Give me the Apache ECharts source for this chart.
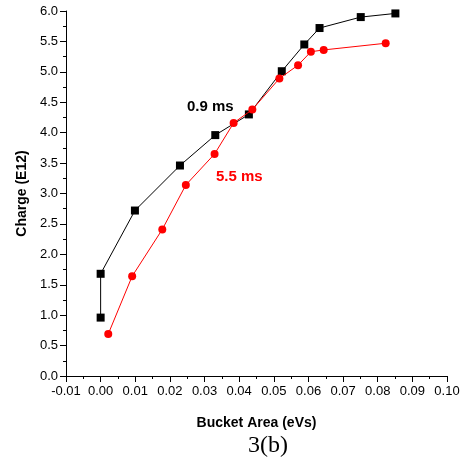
<!DOCTYPE html>
<html><head><meta charset="utf-8">
<script src="https://cdn.jsdelivr.net/npm/echarts@6/dist/echarts.min.js"></script>
<style>html,body{margin:0;padding:0;background:#fff}#c{width:464px;height:465px}</style>
</head><body><div id="c"></div>
<script>
var xTicks = [-0.01,0.00,0.01,0.02,0.03,0.04,0.05,0.06,0.07,0.08,0.09,0.10];
var yTicks = [0.0,0.5,1.0,1.5,2.0,2.5,3.0,3.5,4.0,4.5,5.0,5.5,6.0];
var area09 = [0.0, 0.0, 0.0099, 0.0229, 0.0331, 0.0428, 0.0523, 0.0588, 0.0632, 0.0751, 0.0851];
var charge09 = [0.96, 1.68, 2.72, 3.46, 3.96, 4.30, 5.01, 5.45, 5.72, 5.90, 5.96];
var area55 = [0.0022, 0.0091, 0.0178, 0.0246, 0.0329, 0.0384, 0.0438, 0.0516, 0.0570, 0.0607, 0.0644, 0.0823];
var charge55 = [0.69, 1.64, 2.41, 3.14, 3.65, 4.16, 4.38, 4.89, 5.11, 5.33, 5.36, 5.47];
var seriesNames = ['0.9 ms', '5.5 ms'];
var xTitle = 'Bucket Area (eVs)';
var yTitle = 'Charge (E12)';
var caption = '3(b)';

function pairs(xs, ys){ return xs.map(function(x,i){ return [x, ys[i]]; }); }

var chart = echarts.init(document.getElementById('c'));
var fam = 'Liberation Sans, Arial, sans-serif';
chart.setOption({
  animation: false,
  grid: { left: 66, right: 17, top: 11, bottom: 89 },
  xAxis: {
    type: 'value', min: xTicks[0], max: xTicks[xTicks.length-1], interval: 0.01,
    name: xTitle, nameLocation: 'middle', nameGap: 40,
    nameTextStyle: { fontFamily: fam, fontWeight: 'bold', fontSize: 14, color: '#000' },
    axisLine: { show: true, onZero: false, lineStyle: { color: '#000', width: 1 } },
    axisTick: { show: true, inside: false, length: 6, lineStyle: { color: '#000' } },
    minorTick: { show: true, splitNumber: 2, length: 3, lineStyle: { color: '#000' } },
    splitLine: { show: false },
    axisLabel: { fontFamily: fam, fontSize: 13, color: '#000', margin: 9,
      formatter: function(v){ return v.toFixed(2); } }
  },
  yAxis: {
    type: 'value', min: yTicks[0], max: yTicks[yTicks.length-1], interval: 0.5,
    name: yTitle, nameLocation: 'middle', nameGap: 34, nameRotate: 90,
    nameTextStyle: { fontFamily: fam, fontWeight: 'bold', fontSize: 14, color: '#000' },
    axisLine: { show: true, onZero: false, lineStyle: { color: '#000', width: 1 } },
    axisTick: { show: true, inside: false, length: 6, lineStyle: { color: '#000' } },
    minorTick: { show: true, splitNumber: 2, length: 3, lineStyle: { color: '#000' } },
    splitLine: { show: false },
    axisLabel: { fontFamily: fam, fontSize: 13, color: '#000', margin: 8,
      formatter: function(v){ return v.toFixed(1); } }
  },
  series: [
    { name: seriesNames[0], type: 'line', data: pairs(area09, charge09),
      symbol: 'rect', symbolSize: 8, lineStyle: { color: '#000', width: 1 },
      itemStyle: { color: '#000' }, z: 2 },
    { name: seriesNames[1], type: 'line', data: pairs(area55, charge55),
      symbol: 'circle', symbolSize: 8, lineStyle: { color: '#ff0000', width: 1 },
      itemStyle: { color: '#ff0000' }, z: 3 }
  ],
  graphic: [
    { type: 'text', left: 187, top: 99, style: { text: seriesNames[0], fill: '#000',
      font: 'bold 15px Liberation Sans, Arial, sans-serif' } },
    { type: 'text', left: 216, top: 169, style: { text: seriesNames[1], fill: '#ff0000',
      font: 'bold 15px Liberation Sans, Arial, sans-serif' } },
    { type: 'text', left: 248, top: 434, style: { text: caption, fill: '#000',
      font: '24px Liberation Serif, Times New Roman, serif' } }
  ]
});
</script></body></html>
